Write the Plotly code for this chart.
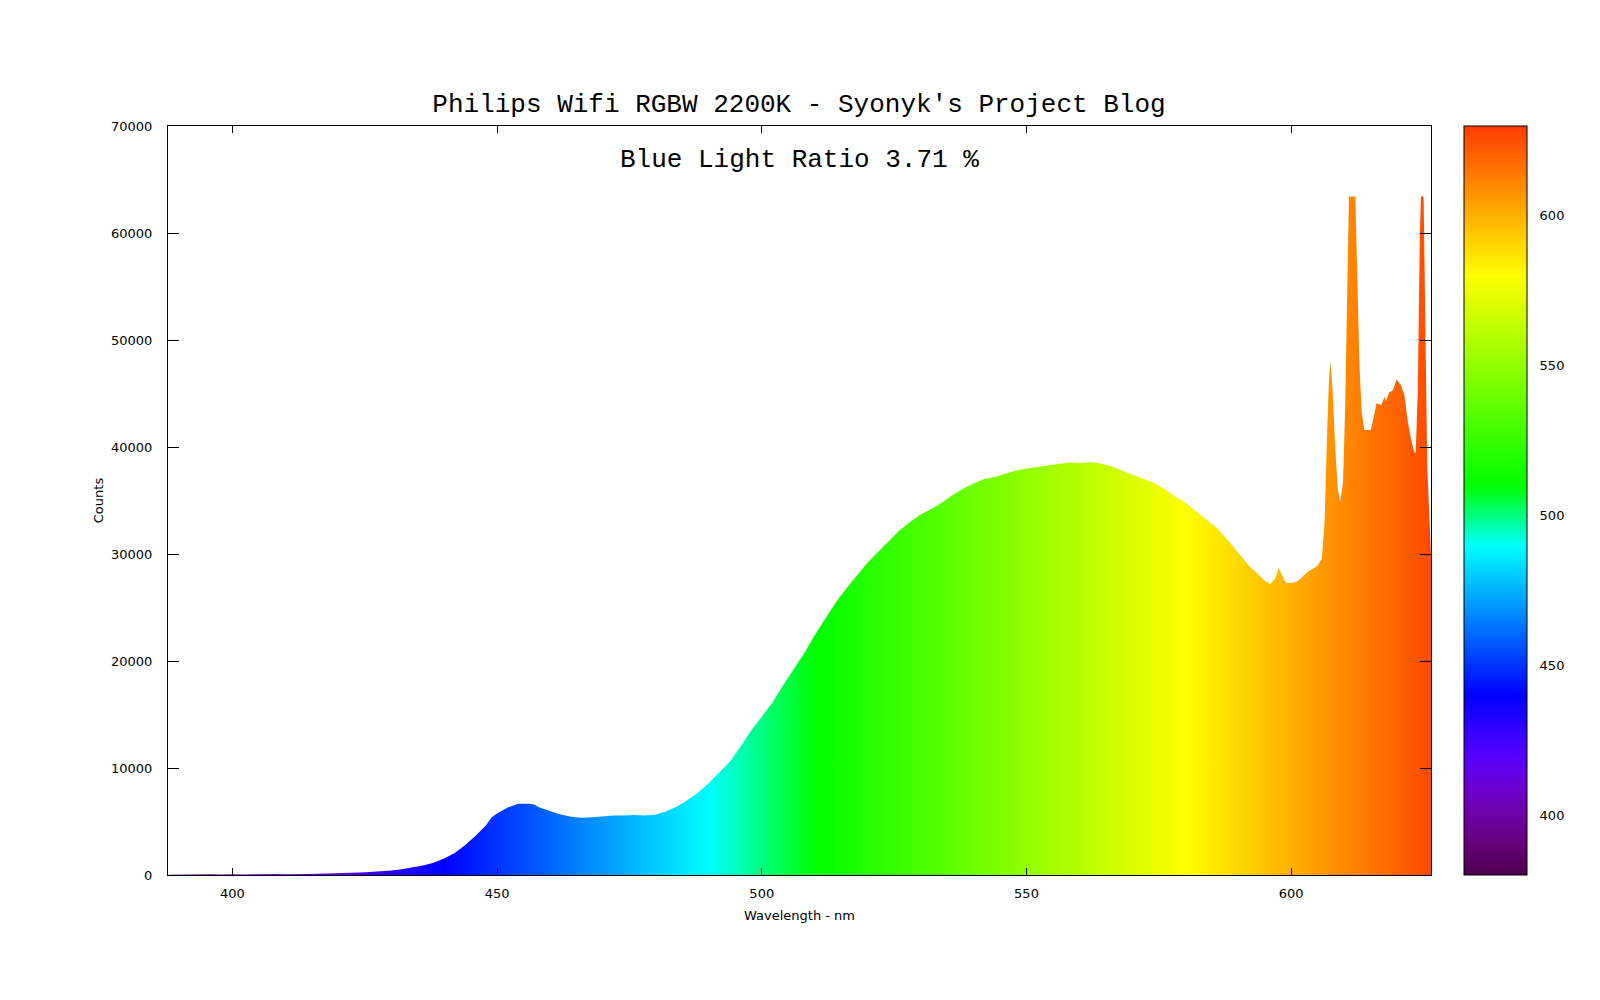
import plotly.graph_objects as go

# ---- data ----
wavelength_nm = [
    388, 390, 392, 394, 396, 398, 400, 402, 404, 406, 408, 410, 412, 414, 416, 418,
    420, 422, 424, 426, 428, 430, 432, 434, 436, 438, 440, 442, 444, 446, 448, 449,
    450, 452, 454, 456, 457, 458, 460, 462, 464, 466, 468, 470, 472, 474, 476, 478,
    480, 482, 484, 486, 488, 490, 492, 494, 496, 498, 500, 502, 504, 506, 508, 510,
    512, 514, 516, 518, 520, 522, 524, 526, 528, 530, 532, 534, 536, 538, 540, 542,
    544, 546, 548, 550, 552, 554, 556, 558, 560, 562, 564, 566, 568, 570, 572, 574,
    576, 578, 580, 582, 584, 586, 588, 590, 592, 594, 595, 596, 597, 597.6, 598.2,
    599, 600, 601, 602, 603, 604, 605, 605.8, 606.3, 606.7, 607.1, 607.4, 607.8,
    608.3, 608.8, 609.3, 609.8, 610.2, 610.6, 610.9, 612.1, 612.5, 612.9, 613.3,
    613.8, 615.0, 615.6, 616.1, 617.0, 617.6, 617.9, 618.5, 619.2, 619.9, 620.7,
    621.4, 622.0, 622.6, 623.2, 623.5, 623.9, 624.3, 624.5, 625.0, 625.3, 625.7, 626.4,
]
counts = [
    20, 40, 30, 90, 60, 40, 80, 50, 90, 60, 100, 70, 60, 90, 110, 130,
    150, 190, 230, 280, 330, 420, 540, 700, 880, 1150, 1550, 2050, 2800, 3700, 4700, 5400,
    5750, 6300, 6650, 6650, 6600, 6300, 5950, 5650, 5450, 5350, 5400, 5500, 5550, 5550, 5600, 5550,
    5650, 5950, 6400, 7000, 7700, 8600, 9600, 10600, 12000, 13500, 14800, 16100, 17700, 19200, 20700, 22400,
    24000, 25500, 26800, 28000, 29200, 30200, 31200, 32200, 33000, 33700, 34200, 34800, 35500, 36100, 36600, 37000,
    37200, 37500, 37800, 38000, 38150, 38300, 38400, 38550, 38500, 38600, 38450, 38200, 37800, 37400, 37000, 36650,
    36100, 35400, 34800, 34000, 33200, 32400, 31300, 30100, 28900, 28000, 27500, 27200, 27700, 28700, 28100,
    27300, 27300, 27400, 27800, 28300, 28600, 28900, 29600, 33000, 40000, 46000, 48000, 45500,
    40000, 36000, 34900, 36800, 44000, 55000, 63400, 63400, 55000, 47500, 43300,
    41600, 41600, 42800, 44100, 43900, 44700, 44300, 45100, 45300, 46300, 45800,
    44800, 42400, 40800, 39600, 39400, 45000, 60000, 63400, 63400, 53000, 38000, 30000,
]

title_text = "Philips Wifi RGBW 2200K - Syonyk's Project Blog"
note_text = "Blue Light Ratio 3.71 %"
x_ticks = [400, 450, 500, 550, 600]
y_ticks = [0, 10000, 20000, 30000, 40000, 50000, 60000, 70000]
cbar_ticks = [400, 450, 500, 550, 600]

# ---- styling ----
spectrum_scale = [
    [0.00, "#4d004d"], [0.04, "#650079"], [0.08, "#6e00a6"], [0.12, "#6900d2"],
    [0.16, "#5500ff"], [0.24, "#0000ff"], [0.44, "#00ffff"], [0.52, "#00ff00"],
    [0.80, "#ffff00"], [1.00, "#ff3b00"],
]
CMIN, CMAX = 380, 630
mono = "Liberation Mono, Courier New, monospace"
sans = "DejaVu Sans, sans-serif"

ML, MR, MT, MB = 160, 177, 118, 133
W, H = 1600, 1000
plot_w = W - ML - MR
CB_X = (1456.2 - ML) / plot_w   # colour bar left edge, paper units
CB_W = 63                       # colour bar thickness, px
cb_x1 = CB_X + CB_W / plot_w

fig = go.Figure()
fig.add_trace(go.Scatter(
    x=wavelength_nm, y=counts, mode="lines", line=dict(width=0),
    fill="tozeroy",
    fillgradient=dict(type="horizontal", colorscale=spectrum_scale, start=CMIN, stop=CMAX),
    showlegend=False, hoverinfo="x+y",
))
# colour bar (wavelength scale)
fig.add_trace(go.Scatter(
    x=[wavelength_nm[0]], y=[0], mode="markers",
    marker=dict(size=1, opacity=0, color=[CMIN], colorscale=spectrum_scale,
                cmin=CMIN, cmax=CMAX, showscale=True,
                colorbar=dict(
                    x=CB_X, xanchor="left", xpad=0, y=0.5, yanchor="middle", ypad=0,
                    len=1.0, lenmode="fraction", thickness=CB_W, thicknessmode="pixels",
                    outlinewidth=1, outlinecolor="#000000",
                    tickvals=cbar_ticks, ticks="outside", ticklen=10,
                    tickcolor="rgba(0,0,0,0)",
                    tickfont=dict(family=sans, size=13, color="#000000"),
                )),
    showlegend=False, hoverinfo="skip",
))

# inside tick marks on both edges of the colour bar
shapes = []
tick_w = 7 / plot_w
for v in cbar_ticks:
    yp = (v - CMIN) / (CMAX - CMIN)
    shapes.append(dict(type="line", xref="paper", yref="paper", x0=CB_X, x1=CB_X + tick_w,
                       y0=yp, y1=yp, line=dict(color="#000000", width=1)))
    shapes.append(dict(type="line", xref="paper", yref="paper", x0=cb_x1 - tick_w, x1=cb_x1,
                       y0=yp, y1=yp, line=dict(color="#000000", width=1)))

fig.update_layout(
    width=W, height=H,
    margin=dict(l=ML, r=MR, t=MT, b=MB),
    paper_bgcolor="white", plot_bgcolor="white",
    title=dict(text=title_text, x=(799 - 8 - ML) / plot_w, xref="paper", xanchor="center",
               y=1 - 95 / H, yanchor="middle",
               yref="container", font=dict(family=mono, size=26, color="#000000")),
    annotations=[dict(text=note_text, x=0.5, y=0.9545, xref="paper", yref="paper",
                      xanchor="center", yanchor="middle", showarrow=False,
                      font=dict(family=mono, size=26, color="#000000"))],
    shapes=shapes,
    font=dict(family=sans, size=13, color="#000000"),
)
fig.update_xaxes(
    range=[387.85, 626.4], tickvals=x_ticks, ticks="inside", ticklen=7, tickcolor="#000000",
    showline=True, linecolor="#000000", linewidth=1, mirror="ticks", showgrid=False,
    zeroline=False, title=dict(text="Wavelength - nm", standoff=11,
                               font=dict(family=sans, size=13)),
    tickfont=dict(family=sans, size=13), ticklabelstandoff=6,
)
fig.update_yaxes(
    range=[0, 70000], tickvals=y_ticks, ticks="inside", ticklen=11, tickcolor="#000000",
    showline=True, linecolor="#000000", linewidth=1, mirror="ticks", showgrid=False,
    zeroline=False, title=dict(text="Counts", standoff=4, font=dict(family=sans, size=13)),
    tickfont=dict(family=sans, size=13), ticklabelstandoff=12, tickformat="d",
)

fig.write_html("out.html")
